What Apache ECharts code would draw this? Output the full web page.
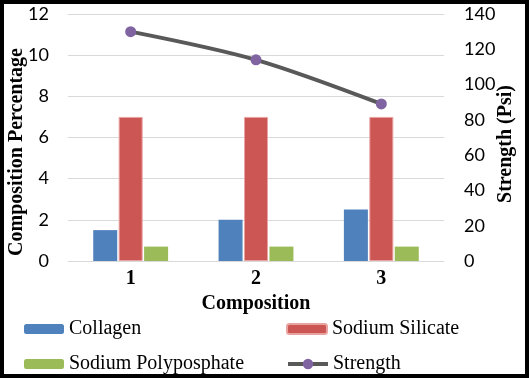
<!DOCTYPE html>
<html>
<head>
<meta charset="utf-8">
<script src="https://cdn.jsdelivr.net/npm/echarts@6/dist/echarts.min.js"></script>
<style>
  body { margin: 0; background: #fff; }
  #main { position: absolute; left: 0; top: 0; width: 529px; height: 379px; }
  #frame {
    position: absolute; left: 0; top: 0; width: 529px; height: 378px;
    border: 4px solid #000; box-sizing: border-box; pointer-events: none;
  }
</style>
</head>
<body>
<div id="main"></div>
<div id="frame"></div>
<script>
// data
const categories = ["1", "2", "3"];
const collagen = [1.5, 2, 2.5];
const sodiumSilicate = [7, 7, 7];
const sodiumPolyposphate = [0.7, 0.7, 0.7];
const strength = [130, 114, 89];

const serif = "Liberation Serif";
const tickFont = "Lato";

// one legend per entry so the 2x2 layout lines up like the original
function legendItem(name, left, top, iconH) {
  return {
    data: [name],
    left: left,
    top: top,
    padding: 0,
    itemWidth: 40,
    itemHeight: iconH || 10,
    itemGap: 7,
    lineStyle: { width: 4 },
    textStyle: { fontFamily: serif, fontSize: 20, color: "#000" },
  };
}

// rotated axis titles, placed by hand (axis name offsets were off-centre in the original)
function axisTitle(text, x, y) {
  return {
    type: "text",
    x: x,
    y: y,
    rotation: Math.PI / 2,
    style: {
      text: text,
      fill: "#000",
      font: "bold 20px '" + serif + "'",
      align: "center",
      verticalAlign: "middle",
    },
  };
}

var chart = echarts.init(document.getElementById("main"));

var option = {
  animation: false,
  grid: {
    left: 68,
    right: 85,
    top: 14,
    bottom: 118,
    containLabel: false,
    outerBoundsMode: "none",
  },
  graphic: [
    axisTitle("Composition Percentage", 17, 152),
    axisTitle("Strength (Psi)", 506, 144),
  ],
  legend: [
    legendItem("Collagen", 24, 319),
    legendItem("Sodium Silicate", 286, 319),
    legendItem("Sodium Polyposphate", 24, 354),
    legendItem("Strength", 286, 354, 13),
  ],
  xAxis: {
    type: "category",
    data: categories,
    name: "Composition",
    nameLocation: "middle",
    nameGap: 33,
    nameTextStyle: { fontFamily: serif, fontSize: 20, fontWeight: "bold", color: "#000" },
    axisLine: { lineStyle: { color: "#d9d9d9" } },
    axisTick: { show: false },
    axisLabel: { fontFamily: serif, fontSize: 20, fontWeight: "bold", color: "#000", margin: 8 },
  },
  yAxis: [
    {
      type: "value",
      min: 0,
      max: 12,
      interval: 2,
      axisLabel: { fontFamily: tickFont, fontSize: 18, color: "#000", margin: 19 },
      splitLine: { lineStyle: { color: "#d9d9d9" } },
    },
    {
      type: "value",
      min: 0,
      max: 140,
      interval: 20,
      axisLabel: { fontFamily: tickFont, fontSize: 18, color: "#000", margin: 20 },
      splitLine: { show: false },
    },
  ],
  series: [
    {
      name: "Collagen",
      type: "bar",
      data: collagen,
      barWidth: 24,
      barGap: "6%",
      itemStyle: { color: "#4F81BD" },
    },
    {
      name: "Sodium Silicate",
      type: "bar",
      data: sodiumSilicate,
      barWidth: 24,
      itemStyle: { color: "#CB5653", borderColor: "#E8A3A1", borderWidth: 1 },
    },
    {
      name: "Sodium Polyposphate",
      type: "bar",
      data: sodiumPolyposphate,
      barWidth: 24,
      itemStyle: { color: "#9BBB59" },
    },
    {
      name: "Strength",
      type: "line",
      yAxisIndex: 1,
      data: strength,
      smooth: 0.3,
      symbol: "circle",
      symbolSize: 11,
      lineStyle: { color: "#595959", width: 4 },
      itemStyle: { color: "#8064A2" },
    },
  ],
};

chart.setOption(option);
</script>
</body>
</html>
